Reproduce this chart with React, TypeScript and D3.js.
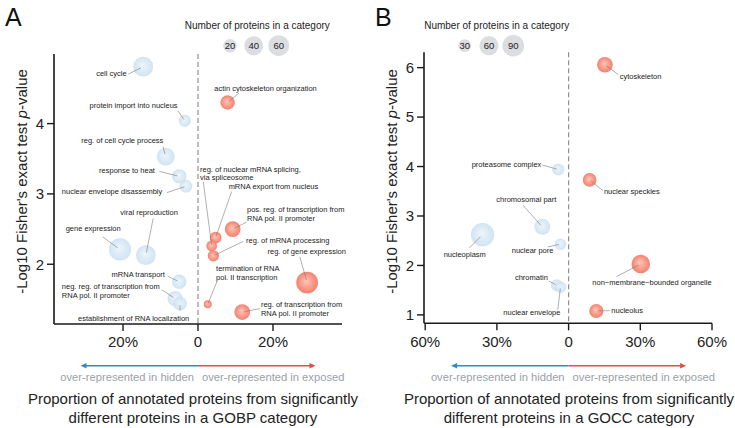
import React from "react";
import * as d3 from "d3";

// ---------- Panel A (GOBP) data ----------
const gobpTerms = [
  "cell cycle",
  "protein import into nucleus",
  "reg. of cell cycle process",
  "response to heat",
  "nuclear envelope disassembly",
  "gene expression",
  "viral reproduction",
  "mRNA transport",
  "neg. reg. of transcription from\nRNA pol. II promoter",
  "establishment of RNA localization",
  "mRNA export from nucleus",
  "reg. of nuclear mRNA splicing,\nvia spliceosome",
  "reg. of mRNA processing",
  "pos. reg. of transcription from\nRNA pol. II promoter",
  "reg. of gene expression",
  "termination of RNA\npol. II transcription",
  "reg. of transcription from\nRNA pol. II promoter",
  "actin cytoskeleton organization",
];
const gobpX = [-14.6, -3.5, -8.6, -5.0, -3.2, -20.8, -13.9, -5.0, -6.1, -4.8, 4.7, 3.65, 4.1, 9.25, 29.1, 2.6, 11.8, 7.9];
const gobpY = [4.81, 4.04, 3.53, 3.25, 3.11, 2.21, 2.13, 1.75, 1.51, 1.44, 2.38, 2.26, 2.12, 2.5, 1.74, 1.43, 1.32, 4.3];
const gobpN = [49, 17, 36, 23, 18, 73, 49, 23, 26, 21, 16, 14, 15, 28, 67, 8, 28, 23];
const gobpLegend = [20, 40, 60];
const gobpXTicks = [-20, 0, 20];
const gobpYTicks = [2, 3, 4];

// ---------- Panel B (GOCC) data ----------
const goccTerms = [
  "cytoskeleton",
  "proteasome complex",
  "nuclear speckles",
  "chromosomal part",
  "nucleoplasm",
  "nuclear pore",
  "non\u2212membrane\u2212bounded organelle",
  "chromatin",
  "nuclear envelope",
  "nucleolus",
];
const goccX = [15.2, -4.3, 8.8, -11.0, -36.0, -3.4, 30.2, -4.9, -3.4, 11.6];
const goccY = [6.06, 3.94, 3.73, 2.78, 2.62, 2.43, 2.03, 1.6, 1.56, 1.08];
const goccN = [43, 27, 34, 45, 112, 25, 57, 27, 25, 36];
const goccLegend = [30, 60, 90];
const goccXTicks = [-60, -30, 0, 30, 60];
const goccYTicks = [1, 2, 3, 4, 5, 6];

// ---------- label layout (pixel offsets from point centre) ----------
type Lab = { dx: number; dy: number; a: "start" | "middle" | "end"; lx: number; ly: number };
const gobpLabels: Lab[] = [
  { dx: -16.6, dy: 9.3, a: "end", lx: -15, ly: 7.5 },
  { dx: -7.3, dy: -13, a: "end", lx: -7, ly: -10 },
  { dx: -2.4, dy: -14, a: "end", lx: -2.7, ly: -10 },
  { dx: -24.3, dy: -3, a: "end", lx: -20, ly: -5 },
  { dx: -23.7, dy: 8.3, a: "end", lx: -19.3, ly: 6.5 },
  { dx: 0.7, dy: -18.6, a: "end", lx: -17.3, ly: -12.6 },
  { dx: 3.2, dy: -40, a: "middle", lx: 7.3, ly: -36.7 },
  { dx: -14.3, dy: -5, a: "end", lx: -11.6, ly: -5.7 },
  { dx: -113.3, dy: -9.7, a: "start", lx: -13.3, ly: -9 },
  { dx: 9.3, dy: 17, a: "end", lx: 0, ly: 7 },
  { dx: 13, dy: -48.4, a: "start", lx: 16, ly: -46 },
  { dx: -11.7, dy: -74.3, a: "start", lx: -8.4, ly: -64.3 },
  { dx: 32.7, dy: -13, a: "start", lx: 30, ly: -14.5 },
  { dx: 14.3, dy: -16.7, a: "start", lx: 14, ly: -7 },
  { dx: -39.6, dy: -29, a: "start", lx: -7.3, ly: -25.6 },
  { dx: 8.3, dy: -33.3, a: "start", lx: 9, ly: -22.3 },
  { dx: 18.7, dy: -4.7, a: "start", lx: 17.7, ly: -3.4 },
  { dx: -13.4, dy: -11.6, a: "start", lx: 11.3, ly: -9.3 },
];
const goccLabels: Lab[] = [
  { dx: 14.7, dy: 14.4, a: "start", lx: 13.5, ly: 10 },
  { dx: -17, dy: -3, a: "end", lx: -16, ly: -4.5 },
  { dx: 14.3, dy: 13.7, a: "start", lx: 13.3, ly: 10.7 },
  { dx: -16, dy: -24.4, a: "middle", lx: -19.4, ly: -21.7 },
  { dx: -17.8, dy: 22.3, a: "middle", lx: -13.3, ly: 13.3 },
  { dx: -7, dy: 9.3, a: "end", lx: -12.7, ly: 2.7 },
  { dx: 11.2, dy: 21, a: "middle", lx: -24.3, ly: 12.7 },
  { dx: -9, dy: -5.6, a: "end", lx: -8, ly: -4 },
  { dx: 0, dy: 28, a: "end", lx: -2.7, ly: 22.7 },
  { dx: 15, dy: 2.3, a: "start", lx: 13.5, ly: -0.3 },
];

const FONT = "'Liberation Sans', Arial, Helvetica, sans-serif";

type PanelProps = {
  letter: string;
  letterX: number;
  terms: string[];
  xs: number[];
  ys: number[];
  ns: number[];
  labels: Lab[];
  xDomain: [number, number];
  yDomain: [number, number];
  xRange: [number, number];
  yRange: [number, number];
  xTicks: number[];
  yTicks: number[];
  legend: number[];
  legendX: number[];
  legendTitleX: number;
  rDomain: number[];
  rRange: number[];
  yTitleX: number;
  titleX: number;
  category: string;
  id: string;
};

function Panel(p: PanelProps) {
  const x = d3.scaleLinear().domain(p.xDomain).range(p.xRange);
  const y = d3.scaleLinear().domain(p.yDomain).range(p.yRange);
  const r = d3.scaleLinear().domain(p.rDomain).range(p.rRange);
  const x0 = x(0);
  const yBot = p.yRange[0];
  const yTop = p.yRange[1];
  const fmt = (v: number) => (v === 0 ? "0" : `${Math.abs(v)}%`);
  const arrowY = 365.7;
  const arrowLen = 117.5;
  return (
    <g>
      <text x={p.letterX} y={26} fontSize={25} fontFamily={FONT} fill="#111">
        {p.letter}
      </text>
      {/* size legend */}
      <text x={p.legendTitleX} y={29} fontSize={10} fontFamily={FONT} textAnchor="middle" fill="#222">
        Number of proteins in a category
      </text>
      {p.legend.map((n, i) => (
        <g key={"lg" + i}>
          <circle cx={p.legendX[i]} cy={45.7} r={r(n)} fill="#dcdde0" />
          <text
            x={p.legendX[i]}
            y={45.7 + 3.4}
            fontSize={9.5}
            fontFamily={FONT}
            textAnchor="middle"
            fill="#222"
          >
            {n}
          </text>
        </g>
      ))}
      {/* dashed zero line */}
      <line x1={x0} x2={x0} y1={yTop} y2={yBot} stroke="#8f8f8f" strokeWidth={1.2} strokeDasharray="5,3" />
      {/* axes */}
      <line x1={p.xRange[0]} x2={p.xRange[1]} y1={yBot} y2={yBot} stroke="#1a1a1a" strokeWidth={1.6} />
      <line x1={p.xRange[0]} x2={p.xRange[0]} y1={yTop} y2={yBot} stroke="#1a1a1a" strokeWidth={1.6} />
      {p.xTicks.map((t) => (
        <g key={"xt" + t}>
          <line x1={x(t)} x2={x(t)} y1={yBot} y2={yBot + 7} stroke="#1a1a1a" strokeWidth={1.4} />
          <text x={x(t)} y={346.5} fontSize={15} fontFamily={FONT} textAnchor="middle" fill="#222">
            {fmt(t)}
          </text>
        </g>
      ))}
      {p.yTicks.map((t) => (
        <g key={"yt" + t}>
          <line x1={p.xRange[0] - 7} x2={p.xRange[0]} y1={y(t)} y2={y(t)} stroke="#1a1a1a" strokeWidth={1.4} />
          <text x={p.xRange[0] - 10} y={y(t) + 5.3} fontSize={15} fontFamily={FONT} textAnchor="end" fill="#222">
            {t}
          </text>
        </g>
      ))}
      <text
        transform={`translate(${p.yTitleX},181.5) rotate(-90)`}
        fontSize={15}
        fontFamily={FONT}
        textAnchor="middle"
        fill="#222"
      >
        -Log10 Fisher's exact test <tspan fontStyle="italic">p</tspan>-value
      </text>
      {/* points */}
      {p.xs.map((xv, i) => {
        const cx = x(xv);
        const cy = y(p.ys[i]);
        const rr = r(p.ns[i]);
        return (
          <circle
            key={"pt" + i}
            cx={cx}
            cy={cy}
            r={rr}
            fill={xv < 0 ? `url(#blue${p.id})` : `url(#red${p.id})`}
            fillOpacity={xv < 0 ? 0.85 : 0.95}
          />
        );
      })}
      {/* labels */}
      {p.xs.map((xv, i) => {
        const cx = x(xv);
        const cy = y(p.ys[i]);
        const rr = r(p.ns[i]);
        const L = p.labels[i];
        const sx = cx + L.lx;
        const sy = cy + L.ly;
        const d = Math.hypot(L.lx, L.ly) || 1;
        const ex = cx + (L.lx / d) * rr * 0.25;
        const ey = cy + (L.ly / d) * rr * 0.25;
        const lines = p.terms[i].split("\n");
        return (
          <g key={"lb" + i}>
            <line x1={sx} y1={sy} x2={ex} y2={ey} stroke="#7a7a7a" strokeWidth={0.6} />
            <text
              x={cx + L.dx}
              y={cy + L.dy}
              fontSize={7.5}
              fontFamily={FONT}
              textAnchor={L.a}
              fill="#222"
            >
              {lines.map((ln, k) => (
                <tspan key={k} x={cx + L.dx} dy={k === 0 ? 0 : 8.6}>
                  {ln}
                </tspan>
              ))}
            </text>
          </g>
        );
      })}
      {/* direction arrows */}
      <line x1={x0} x2={x0 - arrowLen + 4} y1={arrowY} y2={arrowY} stroke="#2a8dc6" strokeWidth={1.6} />
      <polygon
        points={`${x0 - arrowLen},${arrowY} ${x0 - arrowLen + 6},${arrowY - 2.8} ${x0 - arrowLen + 6},${arrowY + 2.8}`}
        fill="#2a8dc6"
      />
      <line x1={x0} x2={x0 + arrowLen - 4} y1={arrowY} y2={arrowY} stroke="#e8474c" strokeWidth={1.6} />
      <polygon
        points={`${x0 + arrowLen},${arrowY} ${x0 + arrowLen - 6},${arrowY - 2.8} ${x0 + arrowLen - 6},${arrowY + 2.8}`}
        fill="#e8474c"
      />
      <text x={x0 - 4} y={380.5} fontSize={11.2} fontFamily={FONT} textAnchor="end" fill="#9aa1a8">
        over-represented in hidden
      </text>
      <text x={x0 + 4} y={380.5} fontSize={11.2} fontFamily={FONT} textAnchor="start" fill="#9aa1a8">
        over-represented in exposed
      </text>
      <text x={p.titleX} y={404.3} fontSize={15} fontFamily={FONT} textAnchor="middle" fill="#222">
        Proportion of annotated proteins from significantly
      </text>
      <text x={p.titleX} y={422.7} fontSize={15} fontFamily={FONT} textAnchor="middle" fill="#222">
        {`different proteins in a ${p.category} category`}
      </text>
    </g>
  );
}

function Grads({ id }: { id: string }) {
  return (
    <>
      <radialGradient id={"red" + id} cx="50%" cy="50%" r="50%" fx="45%" fy="42%">
        <stop offset="0%" stopColor="#fdc2b3" />
        <stop offset="100%" stopColor="#f47a66" />
      </radialGradient>
      <radialGradient id={"blue" + id} cx="50%" cy="50%" r="50%" fx="45%" fy="42%">
        <stop offset="0%" stopColor="#eaf3fa" />
        <stop offset="100%" stopColor="#c8dff0" />
      </radialGradient>
    </>
  );
}

export default function App() {
  return (
    <svg
      width={735}
      height={428}
      viewBox="0 0 735 428"
      style={{ position: "absolute", left: 0, top: 0, background: "#fff" }}
    >
      <defs>
        <Grads id="A" />
        <Grads id="B" />
      </defs>
      <Panel
        id="A"
        letter="A"
        letterX={5}
        terms={gobpTerms}
        xs={gobpX}
        ys={gobpY}
        ns={gobpN}
        labels={gobpLabels}
        xDomain={[-38.4, 38.4]}
        yDomain={[1.15, 4.99]}
        xRange={[54, 342]}
        yRange={[324, 54]}
        xTicks={gobpXTicks}
        yTicks={gobpYTicks}
        legend={gobpLegend}
        legendX={[230, 253.7, 278.7]}
        legendTitleX={257.3}
        rDomain={[8, 20, 40, 60]}
        rRange={[4, 6.8, 9.5, 10.5]}
        yTitleX={26.5}
        titleX={193}
        category="GOBP"
      />
      <Panel
        id="B"
        letter="B"
        letterX={375}
        terms={goccTerms}
        xs={goccX}
        ys={goccY}
        ns={goccN}
        labels={goccLabels}
        xDomain={[-60.5, 60]}
        yDomain={[0.83, 6.31]}
        xRange={[424, 712]}
        yRange={[323.3, 52.3]}
        xTicks={goccXTicks}
        yTicks={goccYTicks}
        legend={goccLegend}
        legendX={[464.7, 489, 513.3]}
        legendTitleX={496.7}
        rDomain={[20, 30, 60, 90]}
        rRange={[5.2, 6.4, 9.6, 10.8]}
        yTitleX={396.5}
        titleX={569}
        category="GOCC"
      />
    </svg>
  );
}
